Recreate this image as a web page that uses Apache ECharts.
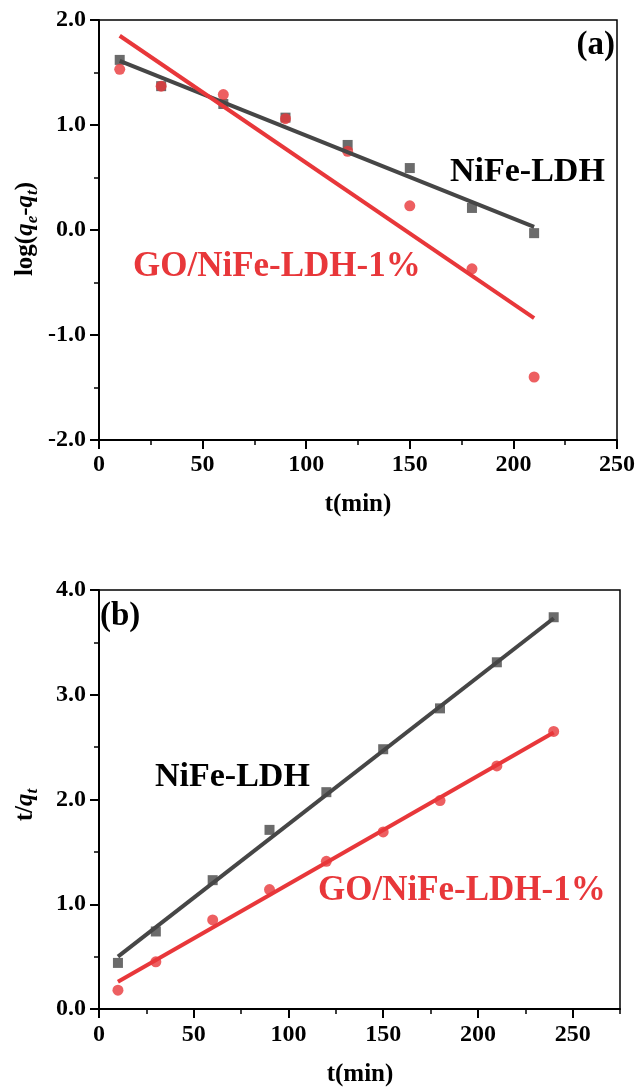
<!DOCTYPE html>
<html>
<head>
<meta charset="utf-8">
<script src="https://cdn.jsdelivr.net/npm/echarts@6/dist/echarts.min.js"></script>
<style>
html,body{margin:0;padding:0;background:#fff;}
#main{width:638px;height:1089px;}
</style>
</head>
<body>
<div id="main"></div>
<script>
// ---------- data (a) pseudo-first-order ----------
const timesA = [10, 30, 60, 90, 120, 150, 180, 210];
const nifeA  = [1.62, 1.37, 1.20, 1.07, 0.81, 0.59, 0.21, -0.03];
const goA    = [1.53, 1.37, 1.29, 1.06, 0.75, 0.23, -0.37, -1.40];
const fitXA  = [10, 210];
const fitNifeA = [1.61, 0.03];
const fitGoA   = [1.85, -0.84];

// ---------- data (b) pseudo-second-order ----------
const timesB = [10, 30, 60, 90, 120, 150, 180, 210, 240];
const nifeB  = [0.44, 0.74, 1.23, 1.71, 2.07, 2.48, 2.87, 3.31, 3.74];
const goB    = [0.18, 0.45, 0.85, 1.14, 1.41, 1.69, 1.99, 2.32, 2.65];
const fitXB  = [10, 240];
const fitNifeB = [0.50, 3.73];
const fitGoB   = [0.26, 2.64];

const seriesNames = ['NiFe-LDH', 'GO/NiFe-LDH-1%'];
const panelLabels = ['(a)', '(b)'];

const FONT = "'Liberation Serif','Times New Roman',serif";
const GREY = '#464646';
const RED = '#e8373a';

function pairs(xs, ys){ return xs.map((x,i)=>[x, ys[i]]); }

const tickLabelStyle = {fontFamily: FONT, fontWeight: 'bold', fontSize: 24, color: '#000'};

function mainAxis(extra){
  return Object.assign({
    type: 'value',
    axisLine: {show: true, onZero: false, lineStyle: {color: '#000', width: 2}},
    axisTick: {show: true, inside: false, length: 9, lineStyle: {color: '#000', width: 2}},
    minorTick: {show: true, splitNumber: 2, length: 5, lineStyle: {color: '#000', width: 1.5}},
    splitLine: {show: false},
    minorSplitLine: {show: false},
    axisLabel: Object.assign({}, tickLabelStyle)
  }, extra);
}

const grids = [
  {left: 99, top: 20, width: 520, height: 420, show: true, borderColor: '#000', borderWidth: 1.5, backgroundColor: 'transparent'},
  {left: 99, top: 590, width: 521, height: 419, show: true, borderColor: '#000', borderWidth: 1.5, backgroundColor: 'transparent'}
];

const xAxes = [
  mainAxis({gridIndex: 0, position: 'bottom', min: 0, max: 250, interval: 50,
    axisLabel: Object.assign({}, tickLabelStyle, {margin: 13})}),
  mainAxis({gridIndex: 1, position: 'bottom', min: 0, max: 275, interval: 50,
    minorTick: {show: false},
    axisLabel: Object.assign({}, tickLabelStyle, {margin: 14, showMaxLabel: false})}),
  // minor ticks for panel (b) x axis (every 25)
  {type: 'value', gridIndex: 1, position: 'bottom', min: 0, max: 275, interval: 25,
    axisLine: {show: false}, axisLabel: {show: false}, splitLine: {show: false},
    axisTick: {show: true, inside: false, length: 5, lineStyle: {color: '#000', width: 1.5}}}
];

const yAxes = [
  mainAxis({gridIndex: 0, position: 'left', min: -2, max: 2, interval: 1,
    axisLabel: Object.assign({}, tickLabelStyle, {margin: 13, formatter: v => v.toFixed(1)})}),
  mainAxis({gridIndex: 1, position: 'left', min: 0, max: 4, interval: 1,
    axisLabel: Object.assign({}, tickLabelStyle, {margin: 13, formatter: v => v.toFixed(1)})})
];

function scatter(name, xi, yi, xs, ys, symbol, size, color){
  return {type: 'scatter', name, xAxisIndex: xi, yAxisIndex: yi, data: pairs(xs, ys),
    symbol, symbolSize: size, itemStyle: {color}, z: 2, silent: true};
}
function fit(name, xi, yi, xs, ys, color){
  return {type: 'line', name, xAxisIndex: xi, yAxisIndex: yi, data: pairs(xs, ys),
    showSymbol: false, symbol: 'none', lineStyle: {color, width: 4}, z: 3, silent: true};
}

const series = [
  scatter(seriesNames[0], 0, 0, timesA, nifeA, 'rect', 10, GREY),
  scatter(seriesNames[1], 0, 0, timesA, goA, 'circle', 11, RED),
  fit(seriesNames[0] + ' fit', 0, 0, fitXA, fitNifeA, GREY),
  fit(seriesNames[1] + ' fit', 0, 0, fitXA, fitGoA, RED),
  scatter(seriesNames[0], 1, 1, timesB, nifeB, 'rect', 10, GREY),
  scatter(seriesNames[1], 1, 1, timesB, goB, 'circle', 11, RED),
  fit(seriesNames[0] + ' fit', 1, 1, fitXB, fitNifeB, GREY),
  fit(seriesNames[1] + ' fit', 1, 1, fitXB, fitGoB, RED)
];

function txt(x, y, text, opts){
  return {type: 'text', x, y, z: 10, silent: true,
    style: Object.assign({text, fontFamily: FONT, fontWeight: 'bold', fontSize: 34, fill: '#000',
      align: 'left', verticalAlign: 'middle'}, opts || {})};
}

const richTitle = {
  n: {fontFamily: FONT, fontWeight: 'bold', fontSize: 25, fill: '#000', lineHeight: 30, verticalAlign: 'middle'},
  i: {fontFamily: FONT, fontWeight: 'bold', fontStyle: 'italic', fontSize: 25, fill: '#000', lineHeight: 30, verticalAlign: 'middle'},
  s: {fontFamily: FONT, fontWeight: 'bold', fontStyle: 'italic', fontSize: 17, fill: '#000', lineHeight: 12, verticalAlign: 'bottom'}
};

const graphics = [
  txt(615, 45, panelLabels[0], {align: 'right', fontSize: 33}),
  txt(450, 172, seriesNames[0]),
  txt(133, 267, seriesNames[1], {fill: RED, fontSize: 35}),
  txt(100, 616, panelLabels[1], {fontSize: 33}),
  txt(155, 777, seriesNames[0]),
  txt(318, 891, seriesNames[1], {fill: RED, fontSize: 35}),
  txt(358, 505, 't(min)', {align: 'center', fontSize: 25}),
  txt(360, 1075, 't(min)', {align: 'center', fontSize: 25}),
  {type: 'text', x: 26, y: 229, rotation: Math.PI / 2, z: 10, silent: true,
    style: {text: '{n|log(}{i|q}{s|e}{n|-}{i|q}{s|t}{n|)}', rich: richTitle, align: 'center', verticalAlign: 'middle'}},
  {type: 'text', x: 26, y: 805, rotation: Math.PI / 2, z: 10, silent: true,
    style: {text: '{n|t/}{i|q}{s|t}', rich: richTitle, align: 'center', verticalAlign: 'middle'}}
];

const chart = echarts.init(document.getElementById('main'), null, {renderer: 'canvas'});
chart.setOption({
  animation: false,
  backgroundColor: '#fff',
  grid: grids,
  xAxis: xAxes,
  yAxis: yAxes,
  series,
  graphic: graphics
});
</script>
</body>
</html>
